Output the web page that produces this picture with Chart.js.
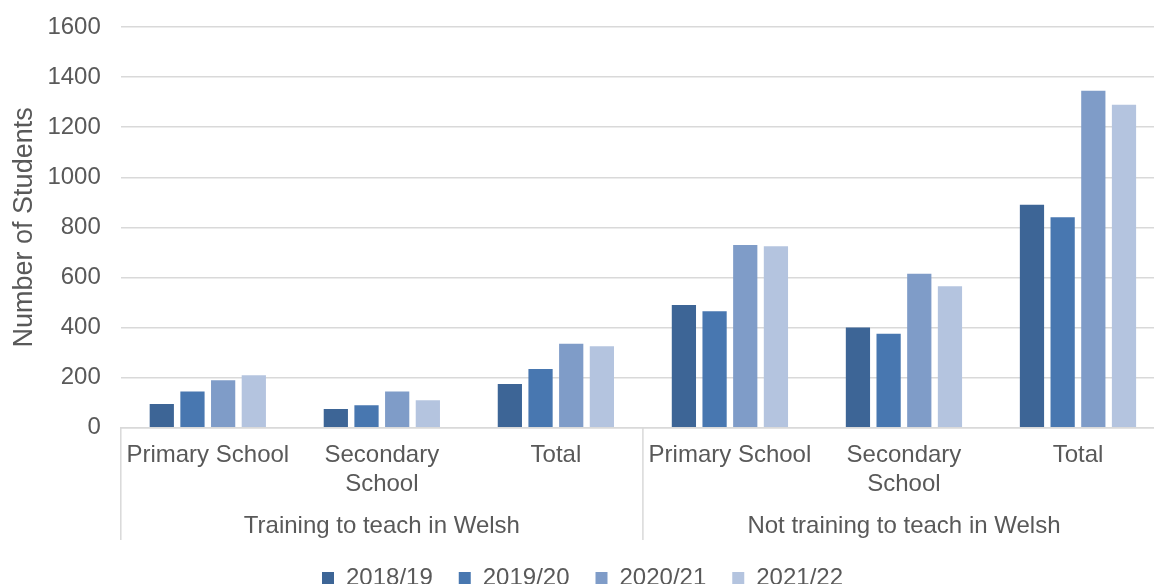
<!DOCTYPE html>
<html>
<head>
<meta charset="utf-8">
<script src="https://cdn.jsdelivr.net/npm/chart.js@4.4.0/dist/chart.umd.min.js"></script>
<style>
  html, body { margin: 0; padding: 0; background: #fff; overflow: hidden; }
  #wrap { position: relative; width: 1165px; height: 600px; }
</style>
</head>
<body>
<div id="wrap"><canvas id="myChart"></canvas></div>
<script>
// categories (inner level) and their groups (outer level)
const categories = ["Primary School", ["Secondary", "School"], "Total",
                    "Primary School", ["Secondary", "School"], "Total"];
const groups = ["Training to teach in Welsh", "Not training to teach in Welsh"];
const years = ["2018/19", "2019/20", "2020/21", "2021/22"];

// number of students
const y2018 = [95, 75, 175, 490, 400, 890];
const y2019 = [145, 90, 235, 465, 375, 840];
const y2020 = [190, 145, 335, 730, 615, 1345];
const y2021 = [210, 110, 325, 725, 565, 1290];

const colours = ["#3d6596", "#4877b0", "#7f9cc8", "#b4c4df"];
const textColour = "#595959";
const fontFamily = "'Liberation Sans', Arial, sans-serif";

/*
 * Draws the vertical separators of the two-level category axis
 */
const groupLines = {
  id: "groupLines",
  afterDraw(chart) {
    const x = chart.scales.x;
    const x2 = chart.scales.x2;
    const ctx = chart.ctx;
    const top = chart.chartArea.bottom;
    const bottom = x2.bottom;
    const mid = (x.getPixelForValue(2) + x.getPixelForValue(3)) / 2;
    ctx.save();
    ctx.strokeStyle = "#d9d9d9";
    ctx.lineWidth = 1.5;
    [x.left, mid].forEach(function (px) {
      ctx.beginPath();
      ctx.moveTo(px, top);
      ctx.lineTo(px, bottom);
      ctx.stroke();
    });
    ctx.restore();
  },
};

const data = [y2018, y2019, y2020, y2021];

new Chart(document.getElementById("myChart"), {
  type: "bar",
  data: {
    labels: categories,
    datasets: years.map(function (year, i) {
      return {
        label: year,
        data: data[i],
        backgroundColor: colours[i],
        categoryPercentage: 0.705,
        barPercentage: 0.79,
        xAxisID: "x",
      };
    }),
  },
  options: {
    responsive: true,
    maintainAspectRatio: false,
    animation: false,
    layout: {
      padding: { left: 0, right: 0, top: 0, bottom: 0 },
    },
    scales: {
      x: {
        grid: { display: false, drawTicks: false },
        border: { display: true, color: "#d9d9d9", width: 1.5 },
        ticks: {
          color: textColour,
          padding: 14,
          maxRotation: 0,
          autoSkip: false,
          font: { family: fontFamily, size: 24, lineHeight: 1.17 },
        },
      },
      x2: {
        type: "category",
        position: "bottom",
        labels: groups,
        offset: true,
        grid: { display: false, drawTicks: false },
        border: { display: false },
        ticks: {
          color: textColour,
          padding: 0,
          maxRotation: 0,
          font: { family: fontFamily, size: 24, lineHeight: 1.17 },
        },
      },
      y: {
        min: 0,
        max: 1600,
        // keep the top gridline close to the top edge
        afterFit: function (scale) {
          scale.paddingTop = 27;
        },
        ticks: {
          stepSize: 200,
          color: textColour,
          padding: 20,
          font: { family: fontFamily, size: 24 },
          callback: function (value) {
            return String(value);
          },
        },
        grid: { color: "#d9d9d9", lineWidth: 1.5, drawTicks: false },
        border: { display: false },
        title: {
          display: true,
          text: "Number of Students",
          color: textColour,
          padding: { top: 8, bottom: -13 },
          font: { family: fontFamily, size: 27 },
        },
      },
    },
    plugins: {
      legend: {
        position: "bottom",
        labels: {
          color: textColour,
          boxWidth: 12,
          boxHeight: 12,
          padding: 26,
          font: { family: fontFamily, size: 24 },
        },
      },
      tooltip: { enabled: false },
    },
  },
  plugins: [groupLines],
});
</script>
</body>
</html>
